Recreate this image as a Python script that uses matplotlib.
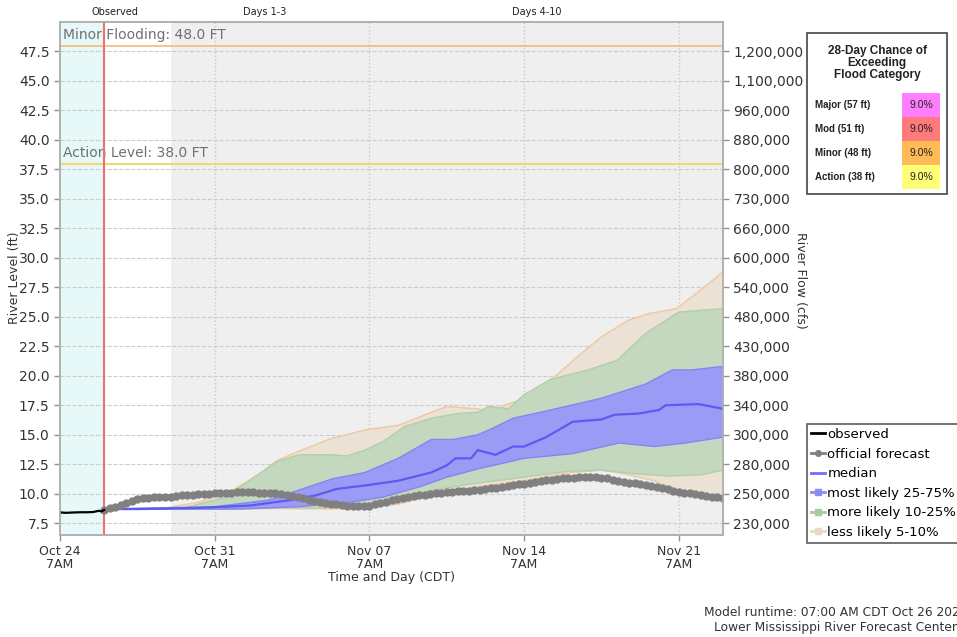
import numpy as np
import pandas as pd
import matplotlib
matplotlib.use("Agg")
import matplotlib.pyplot as plt
import matplotlib.dates as mdates
from matplotlib.lines import Line2D
from matplotlib.patches import Rectangle

# ---------------- data ----------------
start = pd.Timestamp("2023-10-24 07:00")
end_days = 30

obs_days = [0, 0.25, 0.5, 0.75, 1.0, 1.25, 1.5, 1.75, 1.875, 2.0]
obs_level = [8.42, 8.38, 8.40, 8.42, 8.43, 8.43, 8.45, 8.55, 8.50, 8.62]

fcst_days = list(np.arange(2.0, 30.01, 0.25))
fcst_level = [8.60, 8.75, 8.90, 9.05, 9.20, 9.40, 9.55, 9.62, 9.65, 9.68, 9.70, 9.72,
              9.75, 9.80, 9.85, 9.88, 9.92, 9.95, 9.98, 10.00, 10.03, 10.05, 10.08, 10.10,
              10.12, 10.12, 10.12, 10.12, 10.10, 10.08, 10.05, 10.02, 9.97, 9.90, 9.82, 9.72,
              9.60, 9.48, 9.38, 9.30, 9.22, 9.16, 9.10, 9.04, 8.98, 8.94, 8.92, 8.94,
              9.00, 9.10, 9.22, 9.33, 9.45, 9.55, 9.65, 9.72, 9.80, 9.87, 9.93, 9.98,
              10.03, 10.08, 10.12, 10.16, 10.20, 10.23, 10.26, 10.29, 10.32, 10.38, 10.45, 10.52,
              10.60, 10.66, 10.72, 10.80, 10.86, 10.93, 11.00, 11.07, 11.14, 11.20, 11.26, 11.31,
              11.35, 11.37, 11.38, 11.38, 11.38, 11.38, 11.36, 11.30, 11.20, 11.10, 11.02, 10.95,
              10.88, 10.80, 10.70, 10.62, 10.55, 10.47, 10.38, 10.26, 10.15, 10.08, 10.02, 9.95,
              9.88, 9.82, 9.76, 9.70, 9.65]

median_days = [2, 3.6, 6.3, 8.6, 10.4, 11.6, 12.5, 13.8, 15.3, 16.8, 17.5, 17.9, 18.6, 18.9,
               19.7, 20.5, 21.0, 22.0, 23.2, 24.5, 25.1, 26.2, 27.1, 27.4, 28.9, 30]
median_level = [8.7, 8.7, 8.8, 9.0, 9.45, 9.87, 10.4, 10.7, 11.1, 11.8, 12.4, 13.0, 13.0, 13.7,
                13.3, 14.0, 14.0, 14.8, 16.1, 16.3, 16.7, 16.8, 17.1, 17.5, 17.6, 17.2]

blue_up_days = [2, 7, 9.4, 10.8, 12.3, 13.8, 15.3, 16.8, 17.8, 18.9, 19.4, 20.5, 22.2, 24.5,
                26.5, 27.7, 28.6, 30]
blue_up = [8.7, 8.9, 9.45, 10.3, 11.25, 11.8, 13.0, 14.6, 14.6, 15.0, 15.4, 16.4, 17.1, 18.1,
           19.3, 20.5, 20.5, 20.8]
blue_lo_days = [2, 8, 10.8, 13.2, 14.6, 16.3, 17.5, 18.9, 21, 23.2, 25.3, 26.9, 28.3, 30]
blue_lo = [8.7, 8.7, 8.9, 9.3, 9.7, 10.6, 11.4, 12.1, 13.0, 13.4, 14.3, 14.0, 14.3, 14.8]

green_up_days = [2, 5.6, 7.5, 8.7, 9.8, 10.8, 12.3, 13.0, 13.8, 14.6, 15.6, 16.8, 18.0, 18.9,
                 19.4, 20.3, 21.0, 22.2, 23.9, 25.2, 26.5, 28.0, 30]
green_up = [8.7, 8.8, 9.7, 11.3, 12.7, 13.3, 13.3, 13.2, 13.7, 14.4, 15.7, 16.4, 16.8, 16.9,
            17.4, 17.2, 18.4, 19.7, 20.5, 21.3, 23.6, 25.4, 25.7]
green_lo_days = [2, 8, 10, 12, 13.8, 15.3, 16.8, 18.9, 21, 23, 24.5, 26, 27.5, 29, 30]
green_lo = [8.7, 8.7, 8.8, 8.8, 9.0, 9.45, 10.3, 10.9, 11.4, 11.9, 12.0, 11.7, 11.5, 11.6, 12.0]

tan_up_days = [2, 4.8, 6.3, 7.8, 9.0, 9.8, 10.8, 12.3, 13.8, 15.3, 16.8, 17.5, 18.9, 19.6,
               20.1, 21.2, 22.2, 23.4, 24.5, 25.7, 26.7, 27.9, 28.8, 30]
tan_up = [8.7, 8.8, 9.3, 10.3, 11.6, 12.8, 13.6, 14.7, 15.4, 15.8, 16.9, 17.4, 17.2, 17.0,
          17.5, 18.2, 19.6, 21.6, 23.3, 24.7, 25.3, 25.7, 27.0, 28.8]
tan_lo_days = [2, 8, 10, 12, 13.5, 15.3, 16.8, 18.9, 21, 23.2, 24.5, 25.5, 26.9, 28, 30]
tan_lo = [8.7, 8.7, 8.75, 8.7, 8.8, 9.1, 9.9, 10.6, 11.1, 11.8, 12.0, 11.7, 11.1, 10.2, 9.4]

level_ticks = [7.5, 10.0, 12.5, 15.0, 17.5, 20.0, 22.5, 25.0, 27.5, 30.0, 32.5, 35.0,
               37.5, 40.0, 42.5, 45.0, 47.5]
flow_labels = ["230,000", "250,000", "280,000", "300,000", "340,000", "380,000", "430,000",
               "480,000", "540,000", "600,000", "660,000", "730,000", "800,000", "880,000",
               "960,000", "1,100,000", "1,200,000"]

x_tick_days = [0, 7, 14, 21, 28]
x_tick_labels = ["Oct 24\n7AM", "Oct 31\n7AM", "Nov 07\n7AM", "Nov 14\n7AM", "Nov 21\n7AM"]

flood_names = ["Major (57 ft)", "Mod (51 ft)", "Minor (48 ft)", "Action (38 ft)"]
flood_probs = ["9.0%", "9.0%", "9.0%", "9.0%"]
flood_colors = ["#ff7dff", "#ff7b7b", "#ffbb55", "#ffff77"]

minor_level = 48.0
action_level = 38.0
obs_end_day = 2
days13_end = 5

# ---------------- figure ----------------
W, H = 957, 637
fig = plt.figure(figsize=(W / 100, H / 100), dpi=100)

def fx(px):
    return px / W

def fy(py):
    return 1 - py / H

ax = fig.add_axes([fx(60), fy(535), fx(723) - fx(60), fy(22) - fy(535)])

def T(days):
    return mdates.date2num([start + pd.Timedelta(days=float(d)) for d in days])

x0, x1 = T([0, end_days])
ax.set_xlim(x0, x1)
ax.set_ylim(6.5, 50.0)

# background regions
ax.axvspan(*T([0, obs_end_day]), color="#e6f8f8", zorder=0, lw=0)
ax.axvspan(*T([days13_end, end_days]), color="#efefef", zorder=0, lw=0)
ax.axvline(T([obs_end_day])[0], color="#f07070", lw=1.5, zorder=5)

# grid
ax.set_yticks(level_ticks)
ax.set_yticklabels([f"{v:.1f}" for v in level_ticks])
ax.grid(axis="y", color="#cccccc", ls="--", lw=0.8, zorder=1)
for d in x_tick_days[1:]:
    ax.axvline(T([d])[0], color="#c8c8c8", ls=":", lw=1.0, zorder=1)

# flood lines
ax.axhline(minor_level, color="#f5b97a", lw=1.2, zorder=2)
ax.axhline(action_level, color="#f2d870", lw=1.5, zorder=2)
ax.text(T([0.15])[0], minor_level + 0.3, f"Minor Flooding: {minor_level:.1f} FT",
        color="#707070", fontsize=10, va="bottom", ha="left", zorder=3)
ax.text(T([0.15])[0], action_level + 0.3, f"Action Level: {action_level:.1f} FT",
        color="#707070", fontsize=10, va="bottom", ha="left", zorder=3)

def band(up_d, up_v, lo_d, lo_v, fc, ec, z):
    xs = np.concatenate([T(up_d), T(lo_d)[::-1]])
    ys = np.concatenate([up_v, lo_v[::-1]])
    ax.fill(xs, ys, facecolor=fc, edgecolor="none", zorder=z)
    ax.plot(T(up_d), up_v, color=ec, lw=1.0, zorder=z)
    ax.plot(T(lo_d), lo_v, color=ec, lw=1.0, zorder=z)

band(tan_up_days, tan_up, tan_lo_days, tan_lo, "#ebe1d4", "#efc8a0", 3)
band(green_up_days, green_up, green_lo_days, green_lo, "#c4d8bf", "#afd0a6", 4)
band(blue_up_days, blue_up, blue_lo_days, blue_lo, "#9b9bf6", "#8585f2", 5)

ax.plot(T(median_days), median_level, color="#5b5bf0", lw=1.6, zorder=6)
ax.plot(T(fcst_days), fcst_level, color="#808080", lw=2, marker="o", ms=5,
        mec="#808080", mfc="#808080", zorder=7)
ax.plot(T(obs_days), obs_level, color="black", lw=1.6, zorder=8)

# x axis
ax.set_xticks(T(x_tick_days))
ax.set_xticklabels(x_tick_labels, fontsize=9, linespacing=1.0)
ax.tick_params(axis="both", colors="#909090", labelcolor="#333333", length=4, width=1)
ax.tick_params(axis="y", labelsize=10)
for s in ax.spines.values():
    s.set_color("#b0b0b0")
    s.set_linewidth(1.2)

# right axis
ax2 = ax.twinx()
ax2.set_ylim(ax.get_ylim())
ax2.set_yticks(level_ticks)
ax2.set_yticklabels(flow_labels, fontsize=10)
ax2.tick_params(axis="y", colors="#909090", labelcolor="#333333", length=4, width=1)
for s in ax2.spines.values():
    s.set_color("#b0b0b0")
    s.set_linewidth(1.2)

# labels
fig.text(fx(15), fy(278), "River Level (ft)", rotation=90, ha="center", va="center",
         fontsize=9, color="#333333")
fig.text(fx(801), fy(280), "River Flow (cfs)", rotation=-90, ha="center", va="center",
         fontsize=9, color="#333333")
fig.text(fx(391), fy(577), "Time and Day (CDT)", ha="center", va="center", fontsize=9,
         color="#333333")
for lbl, px in [("Observed", 115), ("Days 1-3", 265), ("Days 4-10", 537)]:
    fig.text(fx(px), fy(12), lbl, ha="center", va="center", fontsize=7, color="#222222")

fig.text(fx(836), fy(620), "Model runtime: 07:00 AM CDT Oct 26 2023\nLower Mississippi River Forecast Center",
         ha="center", va="center", fontsize=8.8, color="#333333", linespacing=1.3)

# legend
handles = [
    Line2D([], [], color="black", lw=2),
    Line2D([], [], color="#808080", lw=2, marker="o", ms=4),
    Line2D([], [], color="#7070f5", lw=2),
    Line2D([], [], color="#8c8cf5", lw=2, marker="s", ms=4),
    Line2D([], [], color="#aacaa0", lw=2, marker="s", ms=4),
    Line2D([], [], color="#e8d8c4", lw=2, marker="s", ms=4),
]
labels = ["observed", "official forecast", "median", "most likely 25-75%",
          "more likely 10-25%", "less likely 5-10%"]
leg = fig.legend(handles, labels, loc="upper left", bbox_to_anchor=(fx(807), fy(424)),
                 fontsize=9.5, frameon=True, fancybox=False, edgecolor="#333333",
                 handlelength=1.1, handletextpad=0.15, labelspacing=0.5, borderpad=0.3,
                 borderaxespad=0)
leg.get_frame().set_linewidth(1.2)

# flood category table
fig.add_artist(Rectangle((fx(807), fy(194)), fx(947) - fx(807), fy(33) - fy(194),
                         transform=fig.transFigure, facecolor="white", edgecolor="#444444",
                         lw=1.2))
fig.text(fx(877), fy(63), "28-Day Chance of\nExceeding\nFlood Category", ha="center",
         va="center", fontsize=8.5, fontweight="bold", family="Liberation Sans",
         linespacing=1.0, color="#222222")
row_top = 93
row_h = 24
for i, (nm, pr, col) in enumerate(zip(flood_names, flood_probs, flood_colors)):
    top = row_top + i * row_h
    fig.add_artist(Rectangle((fx(902), fy(top + row_h)), fx(940) - fx(902),
                             fy(top) - fy(top + row_h), transform=fig.transFigure,
                             facecolor=col, edgecolor="none"))
    fig.text(fx(815), fy(top + row_h / 2), nm, ha="left", va="center", fontsize=7,
             fontweight="bold", family="Liberation Sans", color="#222222")
    fig.text(fx(921), fy(top + row_h / 2), pr, ha="center", va="center", fontsize=7.5,
             family="Liberation Sans", color="#222222")

fig.savefig("out.png", dpi=100)
